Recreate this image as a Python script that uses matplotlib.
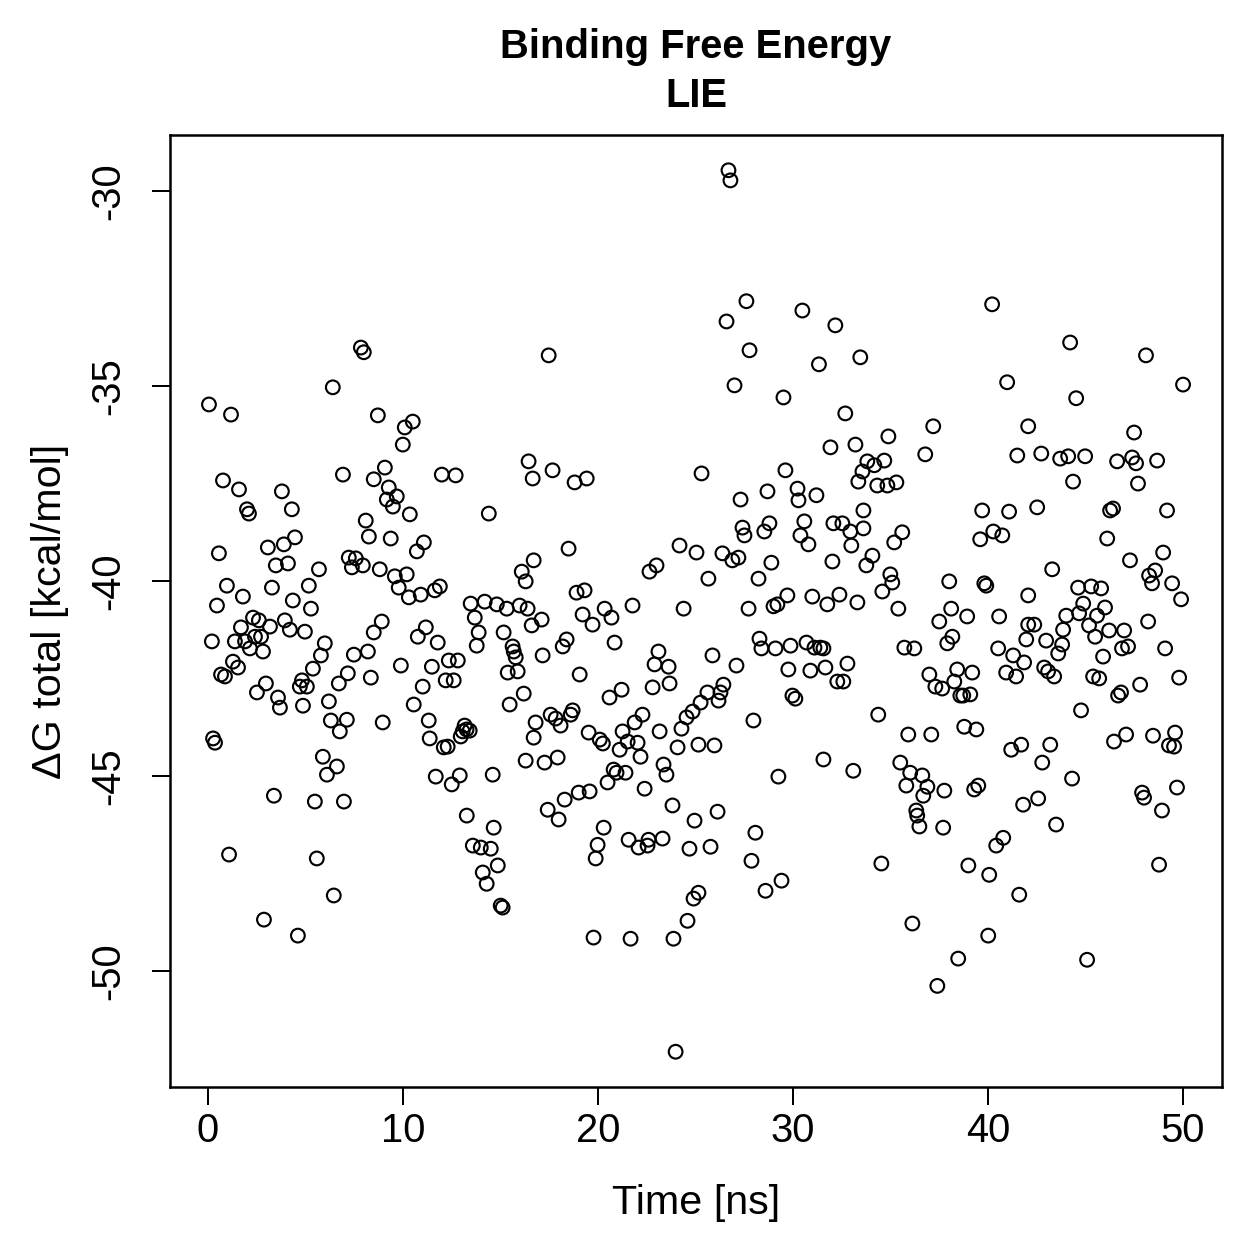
import matplotlib
matplotlib.use("Agg")
import matplotlib.pyplot as plt

# -------------------------
# Data
# -------------------------
time_ns = [
    0.05, 1.18, 0.77, 1.59, 2.00, 2.10, 0.56, 0.97, 1.79, 0.46,
    3.79, 4.30, 4.46, 3.89, 3.07, 3.48, 4.10, 5.69, 7.22, 7.58,
    7.94, 7.38, 3.28, 5.17, 4.35, 5.28, 6.92, 6.40, 7.84, 7.99,
    8.09, 8.25, 8.50, 2.31, 2.61, 3.18, 1.69, 3.94, 4.20, 4.97,
    0.20, 1.38, 1.90, 2.41, 2.72, 2.15, 2.82, 5.99, 5.79, 7.48,
    8.20, 1.28, 1.54, 0.67, 0.87, 5.38, 7.17, 6.71, 8.35, 2.97,
    2.51, 4.82, 4.71, 5.07, 3.59, 3.69, 4.87, 6.20, 6.30, 7.12,
    6.76, 0.26, 0.36, 5.89, 6.61, 6.10, 3.38, 5.48, 6.97, 1.08,
    5.58, 6.45, 2.87, 4.61, 8.50, 8.71, 10.50, 10.09, 9.99, 9.07,
    9.27, 9.68, 9.17, 9.48, 10.35, 9.37, 11.07, 10.71, 11.99, 12.70,
    16.44, 16.65, 14.40, 16.70, 8.81, 9.58, 10.19, 9.78, 10.30, 10.91,
    11.63, 11.89, 16.09, 13.47, 14.19, 14.81, 15.32, 15.98, 16.39, 8.91,
    11.17, 10.76, 11.78, 13.68, 13.88, 13.78, 15.16, 15.62, 15.68, 15.78,
    16.60, 9.89, 11.48, 12.35, 12.81, 11.01, 12.19, 12.60, 15.37, 15.88,
    16.19, 10.55, 15.47, 8.96, 11.32, 11.37, 12.09, 12.29, 13.16, 13.26,
    13.06, 13.42, 12.96, 16.80, 16.70, 16.29, 11.68, 12.50, 12.91, 14.60,
    13.27, 14.65, 13.58, 13.99, 14.50, 14.86, 14.09, 14.29, 15.01, 15.11,
    17.47, 17.67, 18.80, 19.42, 25.31, 18.49, 16.29, 24.18, 25.05, 23.00,
    22.64, 18.90, 19.31, 20.34, 21.77, 24.39, 17.11, 19.21, 19.72, 20.69,
    17.16, 18.39, 18.19, 20.85, 23.10, 22.90, 23.62, 19.06, 23.67, 22.80,
    21.21, 20.59, 17.57, 17.83, 18.08, 18.70, 18.60, 19.52, 20.09, 20.25,
    21.26, 21.88, 22.28, 21.52, 22.03, 21.11, 23.16, 24.28, 24.54, 24.85,
    24.08, 25.15, 25.26, 17.26, 17.93, 22.18, 20.80, 20.95, 21.41, 20.49,
    23.36, 23.51, 18.29, 19.01, 19.57, 22.39, 17.42, 17.98, 23.82, 24.95,
    20.29, 19.98, 19.88, 21.57, 22.08, 22.54, 22.59, 23.31, 24.69, 24.90,
    25.15, 24.59, 19.77, 21.67, 23.87, 23.98, 26.69, 26.79, 27.61, 26.59,
    30.48, 32.17, 27.77, 31.33, 33.45, 27.00, 29.51, 32.68, 31.92, 33.20,
    29.61, 33.81, 33.56, 33.35, 27.31, 28.69, 30.23, 30.28, 31.20, 33.61,
    27.41, 27.51, 28.53, 28.79, 30.58, 30.38, 30.79, 32.07, 32.53, 32.94,
    32.99, 33.61, 26.38, 26.89, 27.20, 28.89, 32.02, 25.66, 28.23, 33.76,
    29.71, 30.99, 32.38, 33.30, 27.72, 29.00, 29.20, 31.76, 25.87, 27.10,
    28.28, 28.38, 29.10, 29.87, 30.69, 31.10, 31.40, 31.56, 29.76, 30.89,
    31.66, 32.79, 32.27, 32.58, 26.43, 26.28, 25.61, 26.18, 29.97, 30.12,
    27.97, 25.97, 31.56, 33.09, 29.25, 26.13, 28.07, 25.77, 27.87, 29.41,
    28.59, 40.21, 40.98, 37.19, 42.06, 34.89, 36.78, 41.50, 34.17, 34.68,
    34.32, 34.84, 35.30, 39.70, 41.08, 35.60, 35.19, 39.60, 40.27, 40.73,
    34.07, 34.99, 35.09, 34.58, 38.01, 39.81, 39.91, 35.40, 38.11, 42.06,
    37.50, 38.93, 40.57, 42.06, 41.96, 35.71, 36.22, 37.91, 38.17, 40.52,
    41.29, 41.85, 36.99, 37.30, 37.65, 38.42, 38.27, 39.19, 38.58, 38.73,
    39.09, 40.93, 41.44, 34.37, 35.91, 37.09, 38.78, 39.40, 41.19, 41.70,
    35.50, 36.01, 36.63, 35.81, 36.89, 36.68, 37.76, 39.29, 39.50, 36.32,
    36.37, 36.48, 37.70, 41.80, 40.78, 40.42, 34.53, 38.99, 40.06, 41.60,
    36.12, 40.01, 38.47, 37.40, 44.21, 48.10, 50.00, 44.52, 47.49, 42.73,
    43.70, 44.11, 44.98, 46.62, 47.39, 47.59, 48.67, 44.36, 47.69, 42.52,
    46.26, 46.41, 49.18, 46.11, 47.28, 48.98, 43.29, 48.26, 48.57, 48.41,
    49.44, 44.62, 45.29, 45.80, 44.88, 46.00, 49.90, 44.01, 44.67, 45.59,
    42.37, 42.98, 43.85, 43.80, 43.60, 45.18, 45.49, 46.21, 46.98, 48.21,
    45.90, 46.87, 47.18, 49.08, 42.88, 43.08, 43.39, 45.39, 45.70, 47.80,
    49.80, 46.67, 46.82, 44.77, 43.19, 42.78, 46.46, 47.08, 48.46, 49.59,
    49.28, 49.54, 44.31, 42.57, 43.49, 47.90, 48.00, 49.69, 48.92, 48.77,
    45.08,
]

dg_total = [
    -35.47, -35.73, -37.42, -37.65, -38.16, -38.27, -39.29, -40.12, -40.40, -40.63,
    -37.70, -38.16, -38.88, -39.06, -39.14, -39.60, -39.55, -39.70, -39.40, -39.42,
    -39.60, -39.65, -40.17, -40.12, -40.50, -40.71, -37.27, -35.03, -34.01, -34.13,
    -38.45, -38.86, -37.39, -40.94, -41.01, -41.17, -41.19, -41.01, -41.25, -41.30,
    -41.55, -41.55, -41.55, -41.43, -41.43, -41.73, -41.81, -41.60, -41.91, -41.89,
    -41.81, -42.07, -42.22, -42.40, -42.45, -42.25, -42.37, -42.63, -42.48, -42.63,
    -42.86, -42.55, -42.71, -42.71, -42.99, -43.25, -43.20, -43.09, -43.58, -43.56,
    -43.86, -44.04, -44.15, -44.51, -44.76, -44.97, -45.51, -45.66, -45.66, -47.02,
    -47.12, -48.07, -48.69, -49.10, -41.32, -35.75, -35.91, -36.06, -36.50, -37.09,
    -37.60, -37.83, -37.91, -38.09, -38.29, -38.91, -39.01, -39.24, -37.27, -37.29,
    -36.93, -37.37, -38.27, -39.47, -39.70, -39.88, -39.83, -40.17, -40.42, -40.35,
    -40.24, -40.14, -39.76, -40.58, -40.53, -40.60, -40.71, -40.63, -40.71, -41.04,
    -41.19, -41.43, -41.58, -40.94, -41.32, -41.66, -41.32, -41.68, -41.81, -41.96,
    -41.14, -42.17, -42.20, -42.04, -42.04, -42.71, -42.55, -42.55, -42.35, -42.32,
    -42.89, -43.17, -43.17, -43.63, -43.58, -44.04, -44.27, -44.25, -43.71, -43.81,
    -43.86, -43.84, -43.99, -43.63, -44.02, -44.61, -45.02, -45.22, -44.99, -44.97,
    -46.02, -46.33, -46.79, -46.84, -46.87, -47.30, -47.48, -47.77, -48.33, -48.38,
    -34.21, -37.16, -37.47, -37.37, -37.24, -39.17, -40.01, -39.09, -39.27, -39.60,
    -39.76, -40.30, -40.24, -40.71, -40.63, -40.71, -40.99, -40.86, -41.12, -40.94,
    -41.91, -41.50, -41.68, -41.58, -41.81, -42.14, -42.20, -42.40, -42.63, -42.73,
    -42.79, -42.99, -43.43, -43.53, -43.71, -43.32, -43.43, -43.89, -44.07, -44.17,
    -43.86, -43.63, -43.43, -44.12, -44.15, -44.33, -43.86, -43.79, -43.50, -43.35,
    -44.27, -44.20, -43.12, -44.66, -44.53, -44.51, -44.84, -44.92, -44.92, -45.17,
    -44.71, -44.97, -45.61, -45.43, -45.40, -45.33, -45.87, -46.12, -45.76, -46.15,
    -46.33, -46.77, -47.12, -46.64, -46.84, -46.79, -46.64, -46.61, -46.87, -48.15,
    -48.00, -48.72, -49.15, -49.18, -49.18, -52.08, -29.46, -29.72, -32.82, -33.34,
    -33.06, -33.44, -34.08, -34.44, -34.26, -34.98, -35.29, -35.70, -36.57, -36.50,
    -37.16, -36.93, -37.19, -37.45, -37.91, -37.70, -37.63, -37.93, -37.80, -38.19,
    -38.63, -38.83, -38.73, -38.52, -38.47, -38.83, -39.06, -38.52, -38.52, -38.73,
    -39.09, -38.65, -39.29, -39.47, -39.40, -39.53, -39.50, -39.94, -39.94, -39.60,
    -40.37, -40.40, -40.35, -40.55, -40.71, -40.65, -40.60, -40.60, -41.91, -42.17,
    -41.48, -41.73, -41.73, -41.66, -41.58, -41.71, -41.71, -41.73, -42.27, -42.30,
    -42.22, -42.12, -42.58, -42.58, -42.66, -42.86, -42.86, -43.07, -42.94, -43.02,
    -43.58, -44.22, -44.58, -44.87, -45.02, -45.92, -46.46, -46.82, -47.18, -47.69,
    -47.95, -32.90, -34.90, -36.03, -36.03, -36.29, -36.75, -36.78, -37.03, -36.91,
    -37.55, -37.55, -37.47, -38.19, -38.22, -38.75, -39.01, -38.93, -38.73, -38.83,
    -39.35, -39.83, -40.04, -40.27, -40.01, -40.06, -40.12, -40.71, -40.71, -40.37,
    -41.04, -40.91, -40.91, -41.12, -41.50, -41.71, -41.73, -41.60, -41.43, -41.73,
    -41.91, -42.09, -42.40, -42.71, -42.76, -42.27, -42.58, -42.35, -42.94, -42.94,
    -42.91, -42.35, -42.45, -43.43, -43.94, -43.94, -43.74, -43.81, -44.33, -44.20,
    -44.66, -44.92, -44.99, -45.25, -45.28, -45.51, -45.38, -45.35, -45.25, -45.89,
    -46.02, -46.30, -46.33, -45.74, -46.59, -46.79, -47.25, -47.30, -47.54, -48.05,
    -48.79, -49.10, -49.69, -50.39, -33.88, -34.21, -34.96, -35.31, -36.19, -36.73,
    -36.86, -36.80, -36.80, -36.93, -36.83, -36.98, -36.91, -37.45, -37.50, -38.11,
    -38.19, -38.14, -38.19, -38.91, -39.47, -39.27, -39.70, -39.86, -39.73, -40.06,
    -40.06, -40.17, -40.14, -40.19, -40.58, -40.68, -40.47, -40.89, -40.83, -40.89,
    -41.12, -41.53, -41.25, -41.63, -41.86, -41.14, -41.43, -41.27, -41.27, -41.04,
    -41.94, -41.73, -41.68, -41.73, -42.22, -42.32, -42.45, -42.45, -42.50, -42.66,
    -42.48, -42.94, -42.86, -43.32, -44.20, -44.66, -44.12, -43.94, -43.97, -43.89,
    -44.22, -44.25, -45.07, -45.58, -46.25, -45.43, -45.56, -45.30, -45.89, -47.28,
    -49.72,
]

x_ticks = [0, 10, 20, 30, 40, 50]
y_ticks = [-50, -45, -40, -35, -30]

# -------------------------
# R base-graphics look
# -------------------------
plt.rcParams["font.family"] = ["Liberation Sans", "DejaVu Sans"]
plt.rcParams["axes.unicode_minus"] = False

fig = plt.figure(figsize=(1259 / 180, 1259 / 180), dpi=180)
ax = fig.add_axes([170 / 1259, 1 - 1087 / 1259, (1222 - 170) / 1259, (1087 - 135) / 1259])

ax.scatter(time_ns, dg_total, s=30, facecolors="none", edgecolors="black", linewidths=0.85)

# R pads the data range by 4% on each side
xr = max(time_ns) - min(time_ns)
yr = max(dg_total) - min(dg_total)
ax.set_xlim(min(time_ns) - 0.04 * xr, max(time_ns) + 0.04 * xr)
ax.set_ylim(min(dg_total) - 0.04 * yr, max(dg_total) + 0.04 * yr)

ax.set_xticks(x_ticks)
ax.set_yticks(y_ticks)
ax.set_yticklabels([str(v) for v in y_ticks], rotation=90, va="center")
ax.tick_params(direction="out", length=7.2, width=0.8, labelsize=16, colors="black")
ax.tick_params(axis="x", pad=3)
ax.tick_params(axis="y", pad=10)
for sp in ax.spines.values():
    sp.set_linewidth(1.0)

cx = (170 + 1222) / 2 / 1259
fig.text(cx, 1 - 58 / 1259, "Binding Free Energy", ha="center", va="baseline",
         fontsize=16, fontweight="bold")
fig.text(cx, 1 - 107 / 1259, "LIE", ha="center", va="baseline",
         fontsize=16, fontweight="bold")
fig.text(cx, 1 - 1203 / 1259, "Time [ns]", ha="center", va="center", fontsize=16.5)
fig.text(50 / 1259, 1 - 611 / 1259, "\u0394G total [kcal/mol]", ha="center", va="center",
         rotation=90, fontsize=16.5)

fig.savefig("out.png", dpi=180)
